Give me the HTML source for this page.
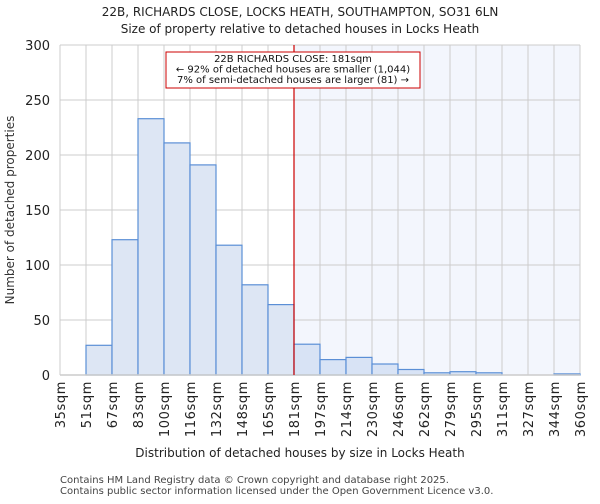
<!DOCTYPE html>
<html><head><meta charset="utf-8"><style>
body{margin:0;background:#fff;font-family:"DejaVu Sans","Liberation Sans",sans-serif}
</style></head><body>
<svg width="600" height="500" xmlns="http://www.w3.org/2000/svg" font-family="DejaVu Sans, Liberation Sans, sans-serif">
<text x="300" y="16" text-anchor="middle" font-size="12" fill="#222">22B, RICHARDS CLOSE, LOCKS HEATH, SOUTHAMPTON, SO31 6LN</text>
<text x="300" y="33" text-anchor="middle" font-size="12" fill="#222">Size of property relative to detached houses in Locks Heath</text>
<g id="plot"></g>
<text x="300" y="457" text-anchor="middle" font-size="12" fill="#222">Distribution of detached houses by size in Locks Heath</text>
<text transform="translate(14,210) rotate(-90)" text-anchor="middle" font-size="12" fill="#333">Number of detached properties</text>
<text x="60" y="483" font-size="10" fill="#444">Contains HM Land Registry data © Crown copyright and database right 2025.</text>
<text x="60" y="494" font-size="10" fill="#444">Contains public sector information licensed under the Open Government Licence v3.0.</text>
</svg>
<script>
const categories=["35sqm","51sqm","67sqm","83sqm","100sqm","116sqm","132sqm","148sqm","165sqm","181sqm","197sqm","214sqm","230sqm","246sqm","262sqm","279sqm","295sqm","311sqm","327sqm","344sqm","360sqm"];
const counts=[0,27,123,233,211,191,118,82,64,28,14,16,10,5,2,3,2,0,0,1];
const yTicks=[0,50,100,150,200,250,300];
const highlightBin=9;
const NS="http://www.w3.org/2000/svg";
const g=document.getElementById('plot');
const X0=60,X1=580,Y0=375,Y1=45,YMAX=300;
const bw=(X1-X0)/counts.length;
const xs=i=>X0+i*bw;
const ys=v=>Y0-(v/YMAX)*(Y0-Y1);
function mk(t,a){const e=document.createElementNS(NS,t);for(const k in a)e.setAttribute(k,a[k]);g.appendChild(e);return e;}
let e=mk('rect',{x:xs(highlightBin),y:Y1,width:X1-xs(highlightBin),height:Y0-Y1,fill:'#f3f6fd'});


yTicks.forEach(v=>{
 let l=mk('line',{x1:X0,x2:X1,y1:ys(v),y2:ys(v),stroke:'#ccc','stroke-width':1});
 
 
 let t=mk('text',{x:X0-10,y:ys(v)+5,'text-anchor':'end','font-size':13,fill:'#222'});t.textContent=v;
 
 
});
categories.forEach((c,i)=>{
 let l=mk('line',{x1:xs(i),x2:xs(i),y1:Y1,y2:Y0,stroke:'#ccc','stroke-width':1});
 
 
 let t=mk('text',{transform:`translate(${xs(i)+5},381) rotate(-90)`,'text-anchor':'end','font-size':13,'letter-spacing':0.6,fill:'#222'});t.textContent=c;
 
 
});
counts.forEach((v,i)=>{
 if(v<=0)return;
 let r=mk('rect',{x:xs(i),y:ys(v),width:bw,height:Y0-ys(v),fill:i>=highlightBin?'#d8e3f5':'#dde6f4',stroke:'#5b8fd6','stroke-width':1.2});
 
 
});
e=mk('line',{x1:X0,x2:X1,y1:Y0,y2:Y0,stroke:'#ccc','stroke-width':1.5});


e=mk('line',{x1:xs(highlightBin),x2:xs(highlightBin),y1:Y1,y2:Y0,stroke:'#cc0000','stroke-width':1.2});


e=mk('rect',{x:166,y:52,width:254,height:36,fill:'#fff',stroke:'#cc0000','stroke-width':1});


["22B RICHARDS CLOSE: 181sqm","← 92% of detached houses are smaller (1,044)","7% of semi-detached houses are larger (81) →"].forEach((s,k)=>{
 let t=mk('text',{x:293,y:62+k*10.5,'text-anchor':'middle','font-size':10,fill:'#111'});t.textContent=s;
 
 
});
</script>
</body></html>
